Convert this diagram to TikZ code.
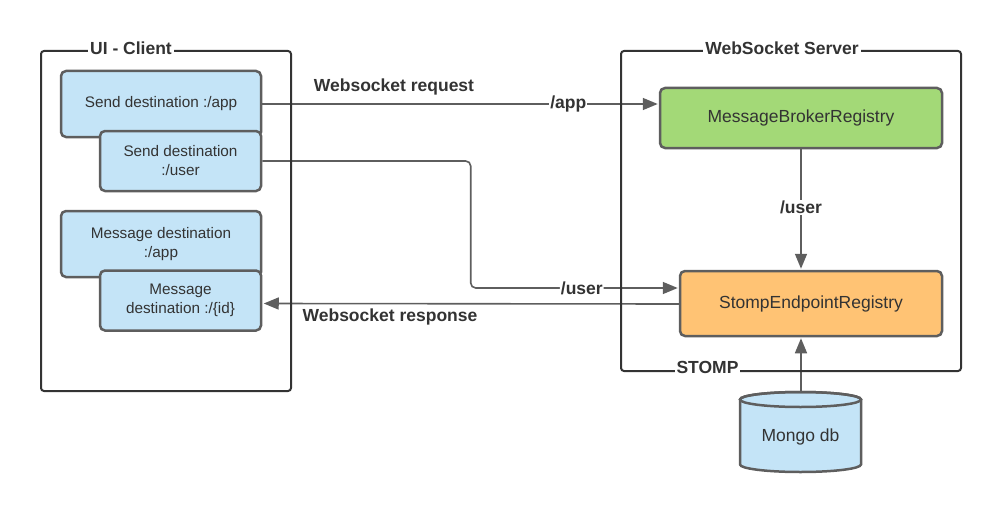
\documentclass[tikz,border=0pt]{standalone}
\usepackage{fontspec}
\setmainfont{Liberation Sans}
\usetikzlibrary{arrows.meta}
\definecolor{txt}{HTML}{333333}
\definecolor{edgec}{HTML}{5E5E5E}
\definecolor{bluef}{HTML}{C4E4F7}
\definecolor{greenf}{HTML}{A3D977}
\definecolor{orangef}{HTML}{FFC374}
\definecolor{framec}{HTML}{333333}
\begin{document}
\begin{tikzpicture}[x=1pt,y=-1pt,
  container/.style={draw=framec, line width=2pt, rounded corners=3pt},
  boxbase/.style={draw=edgec, line width=2.5pt, rounded corners=5pt, text=txt, align=center, inner sep=0pt},
  bluebox/.style={boxbase, fill=bluef, font=\fontsize{15.3}{19}\selectfont},
  srvbox/.style={boxbase, font=\fontsize{17.5}{21}\selectfont},
  conn/.style={draw=edgec, line width=1.6pt, -{Triangle[length=15pt,width=12pt]}, shorten >=1pt},
  lbl/.style={text=txt, font=\fontsize{17.5}{21}\selectfont\bfseries, inner sep=1.5pt},
  onlbl/.style={lbl, fill=white, inner sep=1pt},
  ttl/.style={lbl, fill=white, inner xsep=2pt, inner ysep=1pt}
]
\useasboundingbox (0,0) rectangle (1002,511);

% client boxes
\node[bluebox, minimum width=200pt, minimum height=66pt] (send1) at (161,104) {\raisebox{-2pt}{Send destination :/app}};
\node[bluebox, minimum width=161pt, minimum height=60pt] (send2) at (180.5,161) {Send destination\\:/user};
\node[bluebox, minimum width=200pt, minimum height=66pt] (msg1) at (161,244) {\raisebox{3pt}{\begin{tabular}{@{}c@{}}Message destination\\:/app\end{tabular}}};
\node[bluebox, minimum width=161pt, minimum height=60pt] (msg2) at (180.5,300.5) {Message\\destination :/\{id\}};

% server boxes
\node[srvbox, fill=greenf, minimum width=282pt, minimum height=60pt] (mbr) at (801,118) {MessageBrokerRegistry};
\node[srvbox, fill=orangef, minimum width=262pt, minimum height=65pt] (ser) at (811,303.5) {StompEndpointRegistry};

% mongo cylinder
\path[draw=edgec, fill=bluef, line width=2.5pt]
  (740,399.5) -- (740,464.5)
  arc[start angle=180, end angle=360, x radius=60.5pt, y radius=7.5pt]
  -- (861,399.5)
  arc[start angle=0, end angle=180, x radius=60.5pt, y radius=7.5pt] -- cycle;
\draw[draw=edgec, line width=2.5pt] (800.5,399.5) ellipse [x radius=60.5pt, y radius=7.5pt];
\node[text=txt, font=\fontsize{17.5}{21}\selectfont] (mongo) at (800.5,437) {Mongo db};
\coordinate (mongotop) at (801,392);

% connectors
\draw[conn] (send1.east) -- node[onlbl, pos=0.772] {/app} (mbr.west |- send1.east);
\node[lbl] (reqlbl) at (394,87) {Websocket request};

\draw[conn, rounded corners=5pt] (send2.east) -- (470.7,161) -- (470.7,288)
  -- node[onlbl, pos=0.534] {/user} ([yshift=15.5pt]ser.west);

\draw[conn, shorten >=1.5pt] ([yshift=-0.5pt]ser.west) -- (msg2.east |- ser.west);
\node[lbl] (resplbl) at (390,317) {Websocket response};

\draw[conn] (mbr.south) -- node[onlbl, pos=0.48] {/user} (mbr.south |- ser.north);
\draw[conn] (mongotop) -- (mongotop |- ser.south);

% containers
\draw[container] (41,51) rectangle (291,391);
\draw[container] (621,51) rectangle (961,371);
\node[ttl] (clientttl) at (131,48) {UI - Client};
\node[ttl] (serverttl) at (782,48) {WebSocket Server};
\node[ttl] (stompttl) at (707.5,367) {STOMP};
\end{tikzpicture}
\end{document}
